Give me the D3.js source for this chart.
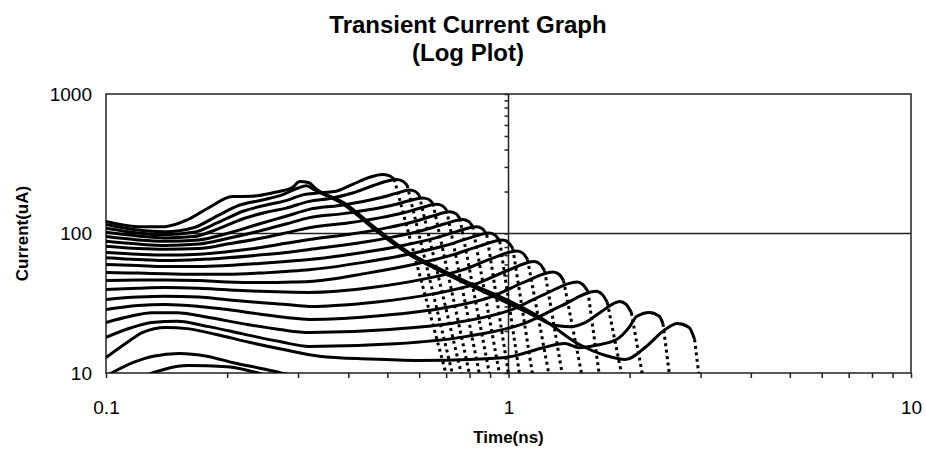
<!DOCTYPE html>
<meta charset="utf-8">
<style>
    body { margin: 0; background: #fff; }
    text { font-family: "Liberation Sans", Arial, sans-serif; fill: #000; }
    .title { font-size: 24px; font-weight: bold; }
    .axis-title { font-size: 17px; font-weight: bold; }
    .labels text { font-size: 19px; }
    .frame { fill: none; stroke: #222; stroke-width: 1.5; }
    .cross { stroke: #222; stroke-width: 1.5; }
    .trace { fill: none; stroke: #000; stroke-width: 3; stroke-linejoin: round; }
    .drop { fill: none; stroke: #000; stroke-width: 3; stroke-dasharray: 3 3.5; }
</style>

<svg width="926" height="454"></svg>

<script src="https://d3js.org/d3.v7.min.js"></script>

<script>
// axis ticks
var xLabels = [0.1, 1, 10];
var yLabels = [10, 100, 1000];
var xMinor = [0.1, 0.2, 0.3, 0.4, 0.5, 0.6, 0.7, 0.8, 0.9, 1, 2, 3, 4, 5, 6, 7, 8, 9, 10];
var yMinor = [10, 20, 30, 40, 50, 60, 70, 80, 90, 100, 200, 300, 400, 500, 600, 700, 800, 900, 1000];

// traces: [time ns, current uA]
var c00 = [[0.1,122],[0.12,112],[0.14,112],[0.16,126],[0.18,153],[0.206,184],[0.23,185],[0.26,196],[0.29,213],[0.303,236],[0.318,232],[0.334,207],[0.39,166],[0.47,108],[0.57,72],[0.69,54],[0.83,42],[1.0,33],[1.2,25],[1.5,16],[1.75,13.3],[1.95,12.5],[2.2,15.5],[2.45,20.5],[2.63,22.6],[2.81,21.2],[2.9,17.4]];
var c01 = [[0.1,116],[0.12,106],[0.14,103],[0.165,110],[0.19,135],[0.215,160],[0.245,174],[0.275,190],[0.3,212],[0.315,220],[0.33,205],[0.39,161],[0.47,104],[0.57,70],[0.69,52.5],[0.83,40.5],[1.0,31.5],[1.15,26],[1.3,22],[1.42,21.5],[1.55,23],[1.7,27.5],[1.89,32.6],[1.96,31],[2.02,27]];
var c02 = [[0.1,109],[0.12,101],[0.14,98],[0.165,102],[0.19,120],[0.22,145],[0.25,160],[0.28,172],[0.31,190],[0.335,195],[0.37,200],[0.41,225],[0.45,252],[0.486,265],[0.505,260],[0.52,245]];
var c03 = [[0.1,102],[0.12,96],[0.14,93],[0.165,95],[0.19,108],[0.22,128],[0.25,142],[0.28,152],[0.32,170],[0.36,178],[0.41,195],[0.46,220],[0.5,238],[0.527,244],[0.545,238],[0.56,222]];
var c04 = [[0.1,95],[0.12,90],[0.14,88],[0.17,90],[0.2,100],[0.24,117],[0.28,133],[0.32,149],[0.38,158.8],[0.438,170.4],[0.491,183.4],[0.53,195.4],[0.567,205],[0.587,200],[0.6,188]];
var c05 = [[0.1,88],[0.12,84],[0.14,82],[0.17,84],[0.2,92],[0.24,104],[0.28,117],[0.32,130],[0.389,138.8],[0.457,149.1],[0.52,160.6],[0.566,171.5],[0.612,180],[0.633,176],[0.649,164]];
var c06 = [[0.1,81],[0.12,78],[0.14,77],[0.17,78],[0.2,84],[0.24,92],[0.28,101],[0.32,110],[0.398,118.9],[0.478,129.4],[0.552,141.5],[0.607,152.9],[0.662,162],[0.685,158],[0.702,147]];
var c07 = [[0.1,73],[0.12,71],[0.14,70],[0.17,71],[0.2,74],[0.24,79],[0.28,85],[0.32,90.6],[0.407,99.2],[0.498,109.7],[0.584,121.9],[0.648,133.5],[0.714,143],[0.739,139],[0.757,128]];
var c08 = [[0.1,67],[0.12,65],[0.14,64],[0.17,65],[0.2,67],[0.24,70],[0.28,73],[0.32,76.8],[0.416,84.8],[0.518,94.6],[0.617,106],[0.692,117],[0.769,126],[0.796,122],[0.815,112]];
var c09 = [[0.1,60],[0.12,59],[0.14,58],[0.17,58],[0.2,59],[0.24,61],[0.28,63],[0.32,65],[0.426,72.5],[0.542,81.7],[0.656,92.6],[0.743,103.2],[0.833,112],[0.862,108],[0.883,98]];
var c10 = [[0.1,52.5],[0.12,52],[0.14,51.5],[0.17,51],[0.2,51],[0.24,52],[0.28,53.5],[0.32,55],[0.436,62.1],[0.564,71],[0.694,81.7],[0.793,92.2],[0.897,101],[0.928,97],[0.951,88]];
var c11 = [[0.1,46],[0.12,46.5],[0.14,46.5],[0.17,46],[0.2,45],[0.24,44.5],[0.28,44.8],[0.32,45.3],[0.446,52],[0.588,60.4],[0.733,70.8],[0.846,81.2],[0.966,90],[1.0,86],[1.025,78]];
var c12 = [[0.1,39.7],[0.12,40.5],[0.14,41],[0.17,40.5],[0.2,39.5],[0.24,38.5],[0.28,38],[0.32,37.8],[0.457,41],[0.615,47.1],[0.78,55.5],[0.91,66.3],[1.05,75],[1.087,72],[1.115,65]];
var c13 = [[0.1,33.7],[0.12,35],[0.14,35.5],[0.17,35],[0.2,33.5],[0.24,32],[0.28,31],[0.32,30],[0.471,32.3],[0.65,36.9],[0.841,44.1],[0.994,54.3],[1.16,63],[1.2,60],[1.23,54]];
var c14 = [[0.1,28.5],[0.12,30.5],[0.14,31],[0.17,30],[0.2,28.5],[0.24,26.5],[0.28,25],[0.32,24.2],[0.486,25.8],[0.689,29.2],[0.91,35.3],[1.091,44.6],[1.29,53],[1.335,51],[1.37,46]];
var c15 = [[0.1,23],[0.115,25.5],[0.13,27],[0.15,27],[0.18,25],[0.22,22.5],[0.27,20.5],[0.32,19.5],[0.507,20.5],[0.743,23],[1.009,28.2],[1.232,36.8],[1.48,45],[1.53,43],[1.575,38.5]];
var c16 = [[0.1,18],[0.115,21],[0.13,23],[0.15,23.5],[0.18,21.5],[0.22,19],[0.27,16.8],[0.32,15.5],[0.523,16.2],[0.789,18.3],[1.095,22.7],[1.356,30.4],[1.65,38.5],[1.71,36.5],[1.76,32]];
var c17 = [[0.1,12.9],[0.113,16.6],[0.123,19.5],[0.141,21.2],[0.159,20.8],[0.188,18.9],[0.227,16.6],[0.274,14.8],[0.339,13.2],[0.45,12.6],[0.6,12.3],[0.8,12.5],[1.0,13],[1.2,15],[1.38,16.3],[1.5,15.2],[1.65,15.8],[1.85,17.3],[2.0,21.5],[2.08,25.4],[2.24,27.2],[2.37,25.5],[2.42,22.5]];
var c18 = [[0.1,9.5],[0.117,11.9],[0.131,13.2],[0.152,13.8],[0.178,13.2],[0.206,11.9],[0.25,10.6],[0.29,9.6]];
var c19 = [[0.125,9.6],[0.16,11.3],[0.2,11.1],[0.25,9.6]];

var traces = [c00, c01, c02, c03, c04, c05, c06, c07, c08, c09, c10, c11, c12, c13, c14, c15, c16, c17, c18, c19];
// time where each trace's steep fall reaches the bottom axis (null = none)
var dropTimes = [2.97, 2.15, 0.70, 0.726, 0.764, 0.80, 0.847, 0.897, 0.95, 1.0, 1.065, 1.147, 1.26, 1.36, 1.52, 1.68, 1.91, 2.51, null, null];

var margin = { left: 106, right: 15, top: 94, bottom: 81 };
var svg = d3.select("svg"),
    W = +svg.attr("width"), H = +svg.attr("height");

var x = d3.scaleLog().domain([0.1, 10]).range([margin.left, W - margin.right]),
    y = d3.scaleLog().domain([10, 1000]).range([H - margin.bottom, margin.top]);

svg.append("defs").append("clipPath").attr("id", "plot")
    .append("rect")
    .attr("x", x(0.1)).attr("y", y(1000))
    .attr("width", x(10) - x(0.1)).attr("height", y(10) - y(1000));

// frame + the two cross lines
svg.append("rect").attr("class", "frame")
    .attr("x", x(0.1)).attr("y", y(1000))
    .attr("width", x(10) - x(0.1)).attr("height", y(10) - y(1000));
svg.append("line").attr("class", "cross")
    .attr("x1", x(1)).attr("x2", x(1)).attr("y1", y(1000)).attr("y2", y(10));
svg.append("line").attr("class", "cross")
    .attr("x1", x(0.1)).attr("x2", x(10)).attr("y1", y(100)).attr("y2", y(100));

// x ticks along the bottom
svg.append("g")
    .attr("transform", "translate(0," + y(10) + ")")
    .call(d3.axisBottom(x).tickValues(xMinor).tickSize(5).tickFormat(""))
    .call(function(g) { g.select(".domain").remove(); g.selectAll("line").attr("stroke", "#222").attr("stroke-width", 1.5); });
svg.append("g").attr("class", "labels")
    .attr("transform", "translate(0," + y(10) + ")")
    .call(d3.axisBottom(x).tickValues(xLabels).tickSize(0).tickPadding(28).tickFormat(d3.format("")))
    .call(function(g) { g.select(".domain").remove(); g.selectAll("text").attr("font-family", null).attr("font-size", null); });

// y ticks sit on the x = 1 line
svg.append("g")
    .attr("transform", "translate(" + x(1) + ",0)")
    .call(d3.axisLeft(y).tickValues(yMinor).tickSize(4).tickFormat(""))
    .call(function(g) { g.select(".domain").remove(); g.selectAll("line").attr("stroke", "#222").attr("stroke-width", 1.5); });
svg.append("g").attr("class", "labels")
    .attr("transform", "translate(" + x(0.1) + ",0)")
    .call(d3.axisLeft(y).tickValues(yLabels).tickSize(0).tickPadding(14).tickFormat(d3.format("")))
    .call(function(g) { g.select(".domain").remove(); g.selectAll("text").attr("font-family", null).attr("font-size", null); });

var line = d3.line()
    .x(function(d) { return x(d[0]); })
    .y(function(d) { return y(d[1]); })
    .curve(d3.curveMonotoneX);

var plot = svg.append("g").attr("clip-path", "url(#plot)");

plot.selectAll(".trace")
    .data(traces)
    .enter().append("path")
    .attr("class", "trace")
    .attr("d", line);

plot.selectAll(".drop")
    .data(traces.map(function(t, i) { return dropTimes[i] == null ? null : [t[t.length - 1], [dropTimes[i], 9.8]]; })
        .filter(function(d) { return d; }))
    .enter().append("path")
    .attr("class", "drop")
    .attr("d", d3.line().x(function(d) { return x(d[0]); }).y(function(d) { return y(d[1]); }));

// titles
svg.append("text").attr("class", "title")
    .attr("x", 468).attr("y", 33).attr("text-anchor", "middle")
    .text("Transient Current Graph");
svg.append("text").attr("class", "title")
    .attr("x", 468).attr("y", 61).attr("text-anchor", "middle")
    .text("(Log Plot)");
svg.append("text").attr("class", "axis-title")
    .attr("x", x(1)).attr("y", 443).attr("text-anchor", "middle")
    .text("Time(ns)");
svg.append("text").attr("class", "axis-title")
    .attr("transform", "translate(28," + y(100) + ") rotate(-90)")
    .attr("text-anchor", "middle")
    .text("Current(uA)");
</script>
